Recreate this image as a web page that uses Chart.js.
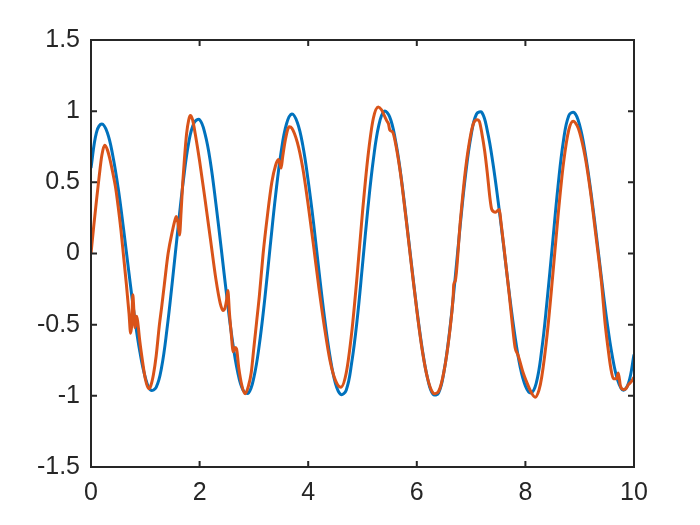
<!DOCTYPE html>
<html>
<head>
<meta charset="utf-8">
<script src="https://cdn.jsdelivr.net/npm/chart.js@4.4.0/dist/chart.umd.min.js"></script>
<style>
  html, body { margin: 0; padding: 0; background: #fff; }
</style>
</head>
<body>
<canvas id="waveChart" width="700" height="525"></canvas>
<script>
// ==========================
// Data
// ==========================
const xTicks = [0, 2, 4, 6, 8, 10];
const yTicks = [-1.5, -1, -0.5, 0, 0.5, 1, 1.5];

// blue curve, sampled every 0.1
const blueX = [
  0, 0.1, 0.2, 0.3, 0.4, 0.5, 0.6, 0.7, 0.8, 0.9,
  1, 1.1, 1.2, 1.3, 1.4, 1.5, 1.6, 1.7, 1.8, 1.9,
  2, 2.1, 2.2, 2.3, 2.4, 2.5, 2.6, 2.7, 2.8, 2.9,
  3, 3.1, 3.2, 3.3, 3.4, 3.5, 3.6, 3.7, 3.8, 3.9,
  4, 4.1, 4.2, 4.3, 4.4, 4.5, 4.6, 4.7, 4.8, 4.9,
  5, 5.1, 5.2, 5.3, 5.4, 5.5, 5.6, 5.7, 5.8, 5.9,
  6, 6.1, 6.2, 6.3, 6.4, 6.5, 6.6, 6.7, 6.8, 6.9,
  7, 7.1, 7.2, 7.3, 7.4, 7.5, 7.6, 7.7, 7.8, 7.9,
  8, 8.1, 8.2, 8.3, 8.4, 8.5, 8.6, 8.7, 8.8, 8.9,
  9, 9.1, 9.2, 9.3, 9.4, 9.5, 9.6, 9.7, 9.8, 9.9,
  10
];
const blueY = [
  0.60, 0.85, 0.91, 0.85, 0.69, 0.46, 0.17, -0.14, -0.44, -0.69,
  -0.87, -0.96, -0.94, -0.80, -0.53, -0.19, 0.17, 0.51, 0.78, 0.92,
  0.94, 0.84, 0.64, 0.35, 0.03, -0.30, -0.60, -0.83, -0.96, -0.98,
  -0.87, -0.64, -0.32, 0.05, 0.41, 0.71, 0.91, 0.98, 0.92, 0.76,
  0.51, 0.21, -0.13, -0.45, -0.72, -0.91, -0.99, -0.96, -0.77, -0.47,
  -0.08, 0.32, 0.66, 0.90, 1.00, 0.96, 0.81, 0.57, 0.26, -0.07,
  -0.39, -0.67, -0.88, -0.99, -0.98, -0.83, -0.56, -0.20, 0.20, 0.56,
  0.83, 0.98, 0.99, 0.86, 0.64, 0.36, 0.05, -0.27, -0.56, -0.79,
  -0.93, -0.98, -0.91, -0.68, -0.33, 0.07, 0.47, 0.79, 0.97, 0.99,
  0.90, 0.71, 0.45, 0.15, -0.17, -0.47, -0.72, -0.89, -0.96, -0.91,
  -0.71
];

// orange curve, denser around the glitches
const orangeX = [
  0, 0.05, 0.1, 0.15, 0.2, 0.25, 0.3, 0.35, 0.4, 0.45,
  0.5, 0.55, 0.6, 0.65, 0.7, 0.73, 0.75, 0.77, 0.79, 0.81,
  0.84, 0.86, 0.9, 0.95, 1, 1.06, 1.1, 1.15, 1.2, 1.26,
  1.3, 1.35, 1.42, 1.5, 1.55, 1.57, 1.6, 1.63, 1.66, 1.69,
  1.72, 1.76, 1.8, 1.83, 1.87, 1.92, 2, 2.1, 2.2, 2.3,
  2.38, 2.43, 2.47, 2.5, 2.52, 2.55, 2.58, 2.62, 2.65, 2.68,
  2.72, 2.78, 2.84, 2.9, 2.95, 3, 3.05, 3.1, 3.17, 3.25,
  3.33, 3.4, 3.45, 3.48, 3.5, 3.53, 3.58, 3.65, 3.7, 3.8,
  3.9, 4, 4.1, 4.2, 4.3, 4.4, 4.5, 4.6, 4.7, 4.8,
  4.9, 5, 5.1, 5.2, 5.29, 5.35, 5.4, 5.45, 5.48, 5.5,
  5.53, 5.56, 5.6, 5.7, 5.8, 5.9, 6, 6.1, 6.2, 6.3,
  6.335, 6.4, 6.5, 6.6, 6.67, 6.68, 6.71, 6.8, 6.9, 7,
  7.05, 7.11, 7.15, 7.2, 7.25, 7.3, 7.35, 7.38, 7.45, 7.52,
  7.55, 7.6, 7.7, 7.76, 7.81, 7.86, 7.9, 7.96, 8.02, 8.1,
  8.18, 8.25, 8.3, 8.4, 8.5, 8.6, 8.7, 8.8, 8.88, 8.95,
  9, 9.1, 9.2, 9.3, 9.4, 9.47, 9.52, 9.57, 9.62, 9.68,
  9.71, 9.75, 9.8, 9.85, 9.9, 9.95, 10
];
const orangeY = [
  0, 0.19, 0.37, 0.54, 0.69, 0.76, 0.73, 0.66, 0.57, 0.47,
  0.33, 0.17, -0.02, -0.21, -0.42, -0.56, -0.50, -0.29, -0.40, -0.52,
  -0.44, -0.48, -0.62, -0.76, -0.88, -0.95, -0.93, -0.85, -0.72, -0.50,
  -0.38, -0.22, 0.00, 0.16, 0.24, 0.26, 0.22, 0.13, 0.30, 0.50,
  0.66, 0.84, 0.94, 0.97, 0.94, 0.84, 0.65, 0.38, 0.10, -0.18,
  -0.35, -0.40, -0.38, -0.32, -0.26, -0.42, -0.55, -0.69, -0.66, -0.67,
  -0.80, -0.93, -0.985, -0.93, -0.84, -0.66, -0.48, -0.30, 0.00, 0.27,
  0.50, 0.62, 0.66, 0.63, 0.60, 0.68, 0.80, 0.89, 0.88, 0.78,
  0.60, 0.34, 0.05, -0.25, -0.52, -0.75, -0.89, -0.94, -0.84, -0.56,
  -0.16, 0.29, 0.68, 0.95, 1.03, 1.01, 0.97, 0.93, 0.91, 0.87,
  0.86, 0.85, 0.79, 0.56, 0.25, -0.08, -0.40, -0.68, -0.88, -0.98,
  -0.985, -0.97, -0.83, -0.57, -0.30, -0.22, -0.19, 0.22, 0.60, 0.85,
  0.92, 0.94, 0.93, 0.84, 0.72, 0.56, 0.38, 0.31, 0.29, 0.31,
  0.22, 0.06, -0.28, -0.50, -0.66, -0.71, -0.76, -0.84, -0.90, -0.97,
  -1.01, -0.96, -0.87, -0.57, -0.17, 0.26, 0.63, 0.87, 0.93, 0.90,
  0.85, 0.68, 0.43, 0.12, -0.20, -0.50, -0.66, -0.80, -0.88, -0.88,
  -0.84, -0.93, -0.955, -0.95, -0.92, -0.90, -0.87
];

const axisColor = '#262626';
const tickFont = { family: '"Liberation Sans", Arial, sans-serif', size: 25 };

// ==========================
// Box + inward ticks (matlab look)
// ==========================
const boxPlugin = {
  id: 'boxPlugin',
  afterDatasetsDraw(chart) {
    const { ctx, chartArea: a, scales } = chart;
    const tick = 6;
    ctx.save();
    ctx.strokeStyle = axisColor;
    ctx.lineWidth = 2;
    ctx.beginPath();
    xTicks.forEach(v => {
      const px = scales.x.getPixelForValue(v);
      ctx.moveTo(px, a.bottom); ctx.lineTo(px, a.bottom - tick);
      ctx.moveTo(px, a.top); ctx.lineTo(px, a.top + tick);
    });
    yTicks.forEach(v => {
      const py = scales.y.getPixelForValue(v);
      ctx.moveTo(a.left, py); ctx.lineTo(a.left + tick, py);
      ctx.moveTo(a.right, py); ctx.lineTo(a.right - tick, py);
    });
    ctx.stroke();
    ctx.strokeRect(a.left, a.top, a.right - a.left, a.bottom - a.top);
    ctx.restore();
  }
};

new Chart(document.getElementById('waveChart').getContext('2d'), {
  type: 'line',
  data: {
    datasets: [
      {
        label: 'blue',
        data: blueX.map((x, i) => ({ x: x, y: blueY[i] })),
        borderColor: '#0072BD',
        borderWidth: 3,
        pointRadius: 0,
        tension: 0.4,
        order: 2
      },
      {
        label: 'orange',
        data: orangeX.map((x, i) => ({ x: x, y: orangeY[i] })),
        borderColor: '#D95319',
        borderWidth: 3,
        pointRadius: 0,
        cubicInterpolationMode: 'monotone',
        order: 1
      }
    ]
  },
  options: {
    responsive: false,
    animation: false,
    devicePixelRatio: 1,
    layout: { padding: { top: 40, right: 66, bottom: 0, left: 0 } },
    plugins: { legend: { display: false }, tooltip: { enabled: false } },
    scales: {
      x: {
        type: 'linear',
        min: 0,
        max: 10,
        afterBuildTicks: s => { s.ticks = xTicks.map(v => ({ value: v })); },
        afterFit: s => { s.height = 58; },
        grid: { display: false, drawTicks: false },
        border: { display: false },
        ticks: { color: axisColor, padding: 11, maxRotation: 0, font: tickFont }
      },
      y: {
        min: -1.5,
        max: 1.5,
        afterBuildTicks: s => { s.ticks = yTicks.map(v => ({ value: v })); },
        afterFit: s => { s.width = 91; },
        grid: { display: false, drawTicks: false },
        border: { display: false },
        ticks: { color: axisColor, padding: 11, callback: v => String(v), font: tickFont }
      }
    }
  },
  plugins: [boxPlugin]
});
</script>
</body>
</html>
